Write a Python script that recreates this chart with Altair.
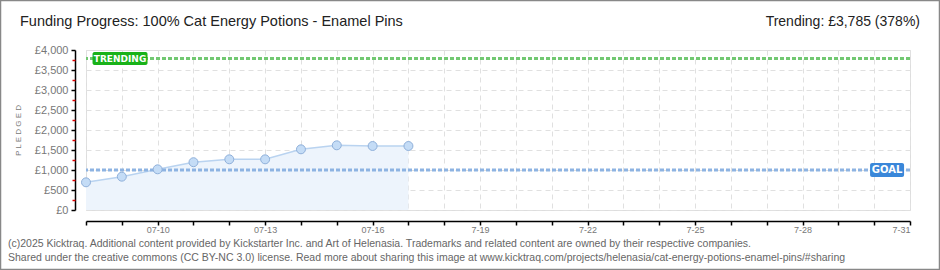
import altair as alt
import pandas as pd

# ---- data ----
dates = ["2025-07-08", "2025-07-09", "2025-07-10", "2025-07-11", "2025-07-12",
         "2025-07-13", "2025-07-14", "2025-07-15", "2025-07-16", "2025-07-17"]
pledged = [692, 833, 1017, 1195, 1267, 1267, 1517, 1617, 1600, 1600]
goal = 1000
trending = 3785
y_ticks = [0, 500, 1000, 1500, 2000, 2500, 3000, 3500, 4000]
y_minor = [250, 750, 1250, 1750, 2250, 2750, 3250, 3750]
x_days = list(range(8, 32))

title_text = "Funding Progress: 100% Cat Energy Potions - Enamel Pins"
trend_text = "Trending:  £3,785 (378%)"
footer1 = ("(c)2025 Kicktraq. Additional content provided by Kickstarter Inc. and Art of Helenasia. "
           "Trademarks and related content are owned by their respective companies.")
footer2 = ("Shared under the creative commons (CC BY-NC 3.0) license. Read more about sharing this image at "
           "www.kicktraq.com/projects/helenasia/cat-energy-potions-enamel-pins/#sharing")

df = pd.DataFrame({"date": dates, "pledged": pledged})
df["day"] = pd.to_datetime(df["date"]).dt.day

FONT = "Liberation Sans Narrow, Liberation Sans, DejaVu Sans"

xscale = alt.Scale(domain=[8, 31], nice=False, zero=False)
yscale = alt.Scale(domain=[0, 4000], nice=False, zero=True)

x_axis = alt.Axis(values=x_days, title=None, offset=11, tickSize=4, tickColor="#000",
                  domainColor="#000", domainWidth=1.5, tickWidth=1.5,
                  labelExpr="datum.value % 3 == 1 ? (datum.value < 17 ? '07-' + datum.value : '7-' + datum.value) : ''",
                  labelColor="#777", labelFontSize=9, labelFont=FONT, labelPadding=0,
                  grid=True, gridColor="#e0e0e0", gridDash=[5, 4], gridWidth=1)
y_axis = alt.Axis(values=y_ticks, title="P L E D G E D", offset=11, tickSize=4, tickColor="#000",
                  domainColor="#000", domainWidth=1.5, tickWidth=1.5, orient="left",
                  labelExpr="'£' + format(datum.value, ',')",
                  labelColor="#777", labelFontSize=11, labelFont=FONT, labelPadding=3,
                  titleColor="#777", titleFontSize=8, titleFont=FONT, titleFontWeight="normal",
                  titlePadding=12,
                  grid=True, gridColor="#e0e0e0", gridDash=[5, 4], gridWidth=1)

X = lambda f: alt.X(f, scale=xscale, axis=x_axis)

area = alt.Chart(df).mark_area(
    color="#edf4fc", line={"color": "#b9d3f0", "strokeWidth": 1.5}, opacity=1
).encode(
    x=X("day:Q"),
    y=alt.Y("pledged:Q", scale=yscale, axis=y_axis),
)

minor = alt.Chart(pd.DataFrame({"v": y_minor})).mark_point(opacity=0).encode(
    y=alt.Y("v:Q", scale=yscale,
            axis=alt.Axis(values=y_minor, orient="left", offset=11, tickColor="#e00000",
                          tickSize=3, tickWidth=1.5, labels=False, domain=False, grid=False,
                          title=None)),
)

points = alt.Chart(df).mark_point(
    filled=True, size=80, fill="#c4dcf6", stroke="#8fb0da", strokeWidth=1, opacity=1
).encode(
    x=X("day:Q"),
    y=alt.Y("pledged:Q", scale=yscale, axis=None),
)

goal_rule = alt.Chart(pd.DataFrame({"g": [goal]})).mark_rule(
    color="#8db3e2", strokeWidth=3, strokeDash=[4, 2]
).encode(y=alt.Y("g:Q", scale=yscale, axis=None))

trend_rule = alt.Chart(pd.DataFrame({"t": [trending]})).mark_rule(
    color="#72c872", strokeWidth=3, strokeDash=[4, 2]
).encode(y=alt.Y("t:Q", scale=yscale, axis=None))

trend_lbl_df = pd.DataFrame({"x": [8.95], "y": [trending], "txt": ["TRENDING"]})
goal_lbl_df = pd.DataFrame({"x": [30.36], "y": [goal], "txt": ["GOAL"]})

trend_box = alt.Chart(trend_lbl_df).mark_rect(
    width=55, height=13, color="#19b219", cornerRadius=2
).encode(x=X("x:Q"), y=alt.Y("y:Q", scale=yscale, axis=None))
trend_txt = alt.Chart(trend_lbl_df).mark_text(
    color="white", fontSize=9, font="DejaVu Sans", fontWeight="bold"
).encode(x=X("x:Q"), y=alt.Y("y:Q", scale=yscale, axis=None), text="txt:N")

goal_box = alt.Chart(goal_lbl_df).mark_rect(
    width=34, height=14, color="#3a87d9", cornerRadius=2
).encode(x=X("x:Q"), y=alt.Y("y:Q", scale=yscale, axis=None))
goal_txt = alt.Chart(goal_lbl_df).mark_text(
    color="white", fontSize=10, font="DejaVu Sans", fontWeight="bold"
).encode(x=X("x:Q"), y=alt.Y("y:Q", scale=yscale, axis=None), text="txt:N")

def label(txt, x, y, size, color, align="left"):
    return alt.Chart(pd.DataFrame({"s": [txt]})).mark_text(
        align=align, baseline="middle", fontSize=size, color=color, font=FONT
    ).encode(text="s:N", x=alt.value(x), y=alt.value(y))

title_l = label(title_text, -66, -28, 14.5, "#222")
trend_l = label(trend_text, 834, -28, 14, "#222", align="right")
foot1 = label(footer1, -78, 194, 10.5, "#666")
foot2 = label(footer2, -78, 208, 10.5, "#666")

border = alt.Chart(pd.DataFrame({"a": [0]})).mark_rect(
    fillOpacity=0, stroke="#888", strokeWidth=1.5
).encode(x=alt.value(-85.5), x2=alt.value(853.5), y=alt.value(-49.5), y2=alt.value(219.5))

chart = alt.layer(
    area, minor, goal_rule, trend_rule, points, trend_box, trend_txt, goal_box, goal_txt,
    title_l, trend_l, foot1, foot2, border
).resolve_axis(y="independent").properties(
    width=824, height=160,
    padding={"left": 86, "top": 50, "right": 30, "bottom": 60},
    autosize=alt.AutoSizeParams(type="none"),
).configure_view(stroke=None).configure(background="white")

chart.save("out.html", embed_options={"renderer": "svg", "actions": False})
